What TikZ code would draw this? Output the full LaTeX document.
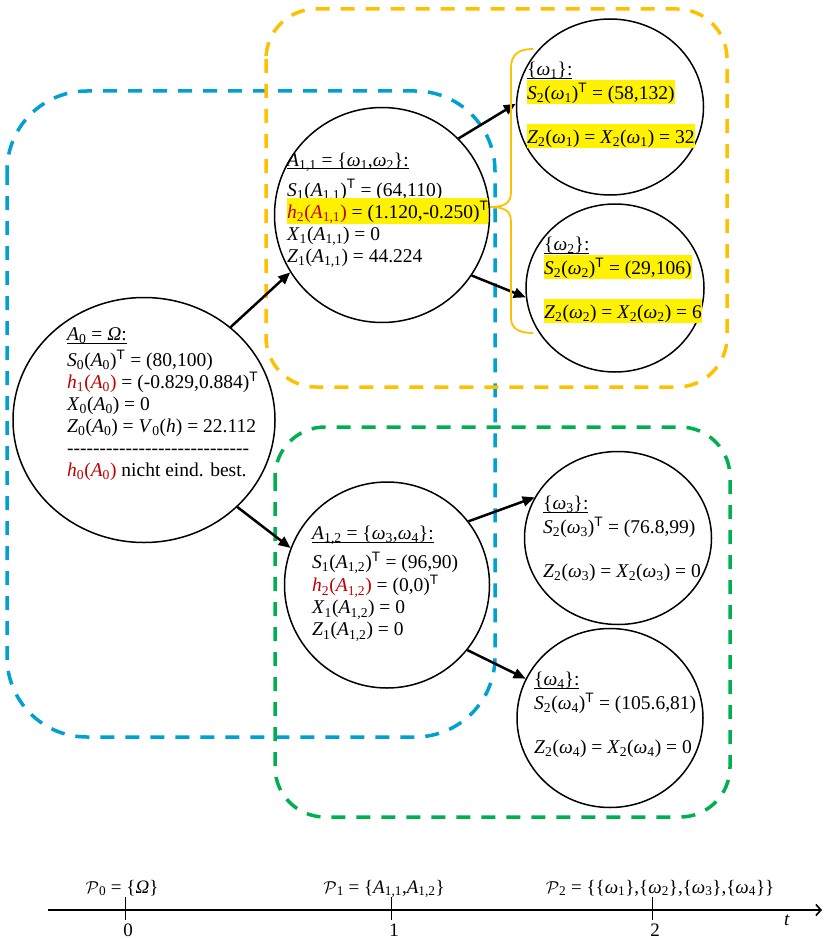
\documentclass[tikz,border=0pt]{standalone}
\usepackage{fontspec}
\setmainfont{Liberation Serif}
\setsansfont{Liberation Sans}
\usepackage{xcolor}
\usepackage{tikz}
\usetikzlibrary{arrows.meta,shapes.geometric}
\definecolor{grpblue}{RGB}{0,160,208}
\definecolor{grporange}{RGB}{255,192,0}
\definecolor{grpgreen}{RGB}{0,176,80}
\definecolor{hred}{RGB}{192,0,0}
\newcommand{\iv}[1]{\textit{#1}}
\newcommand{\sbs}[1]{\textsubscript{#1}}
\newcommand{\trp}{\textsuperscript{\sffamily T}}
\newcommand{\hilite}[1]{\smash{\colorbox{yellow}{\rule[-4pt]{0pt}{24pt}#1}}}
\newcommand{\dashrow}{\hbox to 182pt{\xleaders\hbox{-}\hfill}}
\newcommand{\uhead}[1]{\setbox0\hbox{#1}\rlap{\rule[-3pt]{\wd0}{0.9pt}}\box0}
\setlength{\fboxsep}{0pt}
\tikzset{
  stateell/.style={ellipse, draw=black, line width=1.5pt, inner sep=0pt},
  statetxt/.style={anchor=north west, align=left, inner sep=0pt, font=\fontsize{19.5}{22}\selectfont},
  grpbox/.style={line width=3.5pt, dash pattern=on 14pt off 11pt, rounded corners=50pt},
  treearrow/.style={-{Triangle[length=12pt,width=10pt]}, line width=2.5pt},
  setbrace/.style={draw=grporange, line width=1.8pt},
  timetxt/.style={inner sep=0pt, font=\fontsize{19}{22}\selectfont}
}
\begin{document}
\begin{tikzpicture}[x=1pt,y=-1pt]
\useasboundingbox (0,0) rectangle (824,939);
% groups
\draw[grpbox, draw=grpblue, rounded corners=80pt] (7,91) rectangle (495,737);
\draw[grpbox, draw=grporange] (266,9) rectangle (727,387);
\draw[grpbox, draw=grpgreen] (275,427) rectangle (730,817);
% states
\node[stateell, minimum width=262pt, minimum height=245pt] (a0) at (144,420) {};
\node[stateell, minimum width=215pt, minimum height=215pt] (a11) at (382,215) {};
\node[stateell, minimum width=205pt, minimum height=206pt] (a12) at (387,585) {};
\node[stateell, minimum width=187pt, minimum height=176pt] (w1) at (610,107) {};
\node[stateell, minimum width=178pt, minimum height=168pt] (w2) at (615,288) {};
\node[stateell, minimum width=187pt, minimum height=173pt] (w3) at (618,538) {};
\node[stateell, minimum width=186pt, minimum height=179pt] (w4) at (610,718) {};
% texts
\node[statetxt] (a0txt) at (67,327.5) {\uhead{\iv{A}\sbs{0} = \iv{Ω}:}\\[4pt]
  \iv{S}\sbs{0}(\iv{A}\sbs{0})\trp{} = (80,100)\\
  \textcolor{hred}{\iv{h}\sbs{1}(\iv{A}\sbs{0})} = (-0.829,0.884)\trp\\
  \iv{X}\sbs{0}(\iv{A}\sbs{0}) = 0\\
  \iv{Z}\sbs{0}(\iv{A}\sbs{0}) = \iv{V}\sbs{0}(\iv{h}) = 22.112\\
  \dashrow\\
  \textcolor{hred}{\iv{h}\sbs{0}(\iv{A}\sbs{0})} nicht eind. best.};
\node[statetxt] (a11txt) at (287,152.5) {\uhead{\iv{A}\sbs{1,1} = \{\iv{ω}\sbs{1},\iv{ω}\sbs{2}\}:}\\[7pt]
  \iv{S}\sbs{1}(\iv{A}\sbs{1,1})\trp{} = (64,110)\\
  \hilite{\textcolor{hred}{\iv{h}\sbs{2}(\iv{A}\sbs{1,1})} = (1.120,-0.250)\trp}\\
  \iv{X}\sbs{1}(\iv{A}\sbs{1,1}) = 0\\
  \iv{Z}\sbs{1}(\iv{A}\sbs{1,1}) = 44.224};
\node[statetxt] (a12txt) at (312,526) {\uhead{\iv{A}\sbs{1,2} = \{\iv{ω}\sbs{3},\iv{ω}\sbs{4}\}:}\\[6pt]
  \iv{S}\sbs{1}(\iv{A}\sbs{1,2})\trp{} = (96,90)\\
  \textcolor{hred}{\iv{h}\sbs{2}(\iv{A}\sbs{1,2})} = (0,0)\trp\\
  \iv{X}\sbs{1}(\iv{A}\sbs{1,2}) = 0\\
  \iv{Z}\sbs{1}(\iv{A}\sbs{1,2}) = 0};
\node[statetxt] (w1txt) at (527,62) {\uhead{\{\iv{ω}\sbs{1}\}:}\\[2pt]
  \hilite{\iv{S}\sbs{2}(\iv{ω}\sbs{1})\trp{} = (58,132)}\\[22pt]
  \hilite{\iv{Z}\sbs{2}(\iv{ω}\sbs{1}) = \iv{X}\sbs{2}(\iv{ω}\sbs{1}) = 32}};
\node[statetxt] (w2txt) at (544,237) {\uhead{\{\iv{ω}\sbs{2}\}:}\\[2pt]
  \hilite{\iv{S}\sbs{2}(\iv{ω}\sbs{2})\trp{} = (29,106)}\\[22pt]
  \hilite{\iv{Z}\sbs{2}(\iv{ω}\sbs{2}) = \iv{X}\sbs{2}(\iv{ω}\sbs{2}) = 6}};
\node[statetxt] (w3txt) at (543,496) {\uhead{\{\iv{ω}\sbs{3}\}:}\\[2pt]
  \iv{S}\sbs{2}(\iv{ω}\sbs{3})\trp{} = (76.8,99)\\[22pt]
  \iv{Z}\sbs{2}(\iv{ω}\sbs{3}) = \iv{X}\sbs{2}(\iv{ω}\sbs{3}) = 0};
\node[statetxt] (w4txt) at (534,672) {\uhead{\{\iv{ω}\sbs{4}\}:}\\[2pt]
  \iv{S}\sbs{2}(\iv{ω}\sbs{4})\trp{} = (105.6,81)\\[22pt]
  \iv{Z}\sbs{2}(\iv{ω}\sbs{4}) = \iv{X}\sbs{2}(\iv{ω}\sbs{4}) = 0};
% transitions
\draw[treearrow] (a0.47) -- (a11.212);
\draw[treearrow] (a0.317) -- (a12.159);
\draw[treearrow] (a11.45) -- (w1.178);
\draw[treearrow] (a11.326) -- (w2.186);
\draw[treearrow] (a12.38) -- (w3.154);
\draw[treearrow] (a12.321) -- (w4.155);
% brace from h_2 to the two leaves
\coordinate (bracetip) at (490,207);
\draw[setbrace] (533,49) .. controls (518,49) and (511,55) .. (511,68) -- (511,192)
  .. controls (511,203) and (505,207) .. (bracetip)
  .. controls (505,207) and (511,211) .. (511,222) -- (511,318)
  .. controls (511,328) and (518,333) .. (533,333);
% time axis
\coordinate (axstart) at (48,910);
\coordinate (axend) at (822,910);
\draw[line width=1.6pt, -{Straight Barb[length=5pt,width=11pt]}] (axstart) -- (axend);
\foreach \x/\k in {125/0,391/1,652/2}{
  \draw[line width=0.8pt] (\x,897) -- (\x,920);
  \node[timetxt, anchor=north] (tk\k) at (\x+3,923.5) {\k};
}
\node[timetxt, anchor=base] (tlab) at (787,925) {\iv{t}};
\node[timetxt, anchor=base] (p0) at (122,893) {$\mathcal{P}$\sbs{0} = \{\iv{Ω}\}};
\node[timetxt, anchor=base] (p1) at (384,893) {$\mathcal{P}$\sbs{1} = \{\iv{A}\sbs{1,1},\iv{A}\sbs{1,2}\}};
\node[timetxt, anchor=base] (p2) at (660,893) {$\mathcal{P}$\sbs{2} = \{\{\iv{ω}\sbs{1}\},\{\iv{ω}\sbs{2}\},\{\iv{ω}\sbs{3}\},\{\iv{ω}\sbs{4}\}\}};
\end{tikzpicture}
\end{document}
